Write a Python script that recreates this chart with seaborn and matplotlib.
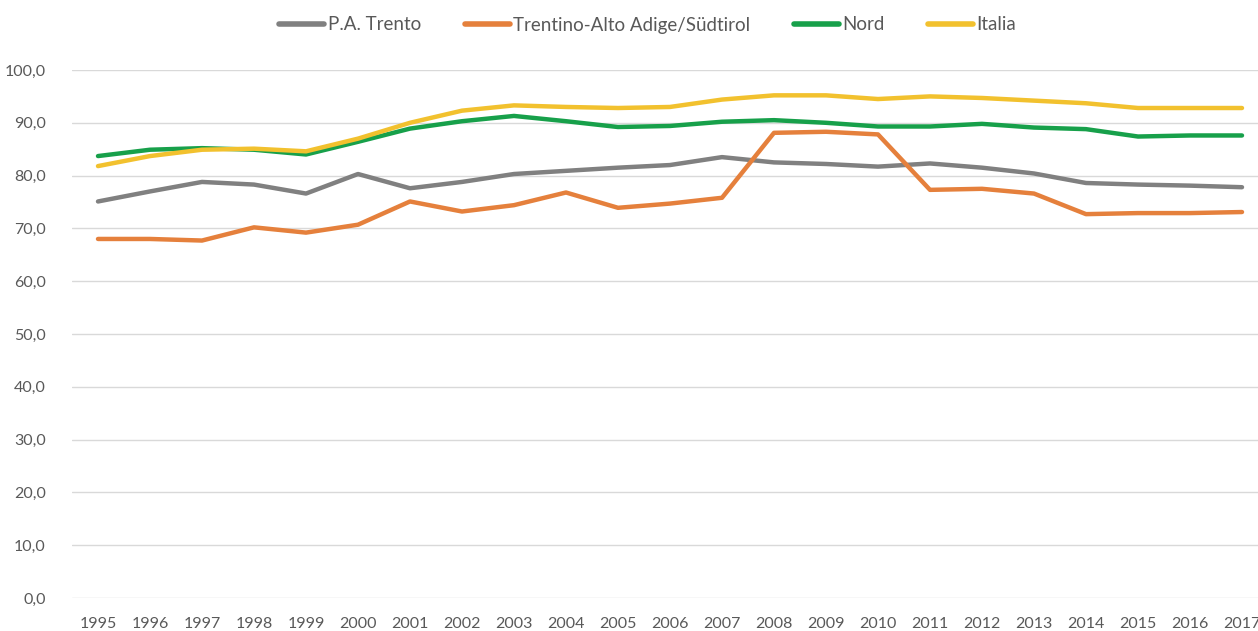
import numpy as np
import pandas as pd
import matplotlib
matplotlib.use("Agg")
import matplotlib.pyplot as plt
import seaborn as sns
from matplotlib.ticker import FuncFormatter
from matplotlib.lines import Line2D

years = list(range(1995, 2018))
trento = [75.1, 77.0, 78.8, 78.3, 76.6, 80.3, 77.6, 78.8, 80.3, 80.9, 81.5, 82.0, 83.5, 82.5, 82.2, 81.7, 82.3, 81.5, 80.4, 78.6, 78.3, 78.1, 77.8]
taa = [68.0, 68.0, 67.7, 70.2, 69.2, 70.7, 75.1, 73.2, 74.4, 76.8, 73.9, 74.7, 75.8, 88.1, 88.3, 87.8, 77.3, 77.5, 76.6, 72.7, 72.9, 72.9, 73.1]
nord = [83.7, 84.9, 85.2, 84.9, 84.0, 86.4, 88.9, 90.3, 91.3, 90.3, 89.2, 89.4, 90.2, 90.5, 90.0, 89.3, 89.3, 89.8, 89.1, 88.8, 87.4, 87.6, 87.6]
italia = [81.8, 83.7, 84.9, 85.1, 84.6, 87.0, 90.0, 92.3, 93.3, 93.0, 92.8, 93.0, 94.4, 95.2, 95.2, 94.5, 95.0, 94.7, 94.2, 93.7, 92.8, 92.8, 92.8]
series_names = ["P.A. Trento", "Trentino-Alto Adige/Südtirol", "Nord", "Italia"]
colors = ["#808080", "#E5803C", "#17A04A", "#F2C12E"]

df = pd.concat([
    pd.DataFrame({"anno": years, "valore": vals, "serie": name})
    for name, vals in zip(series_names, [trento, taa, nord, italia])
])

sns.set_theme(style="white")
plt.rcParams['font.family'] = ['Lato', 'DejaVu Sans']

fig = plt.figure(figsize=(12.58, 6.31), dpi=100)
ax = fig.add_axes([72/1258, 33/631, 1 - 72/1258, (598-70)/631])

sns.lineplot(data=df, x="anno", y="valore", hue="serie", hue_order=series_names,
             palette=colors, linewidth=3.2, ax=ax, legend=False, solid_capstyle="round")

ax.set_xlim(1994.5, 1994.5 + (1258-72)/52.0)
ax.set_ylim(0, 100)
ax.set_yticks(np.arange(0, 101, 10))
ax.set_xticks(years)
ax.set_xticklabels([str(y) for y in years])
ax.yaxis.set_major_formatter(FuncFormatter(lambda v, p: f"{v:.1f}".replace(".", ",")))
ax.grid(axis="y", color="#d9d9d9", linewidth=1)
ax.set_axisbelow(True)
for s in ax.spines.values():
    s.set_visible(False)
ax.tick_params(axis="both", length=0, labelsize=11.5, colors="#595959")
ax.tick_params(axis="x", pad=14)
ax.tick_params(axis="y", pad=19)
ax.set_xlabel("")
ax.set_ylabel("")

handles = [Line2D([0], [0], color=c, linewidth=4, solid_capstyle="round") for c in colors]
fig.legend(handles, series_names, loc="center", bbox_to_anchor=(0.515, 1 - 25/631), ncol=4,
           frameon=False, fontsize=13.5, handlelength=2.4, handletextpad=0.2, columnspacing=2.3,
           labelcolor="#595959")

fig.savefig("out.png", dpi=100, facecolor="white")
